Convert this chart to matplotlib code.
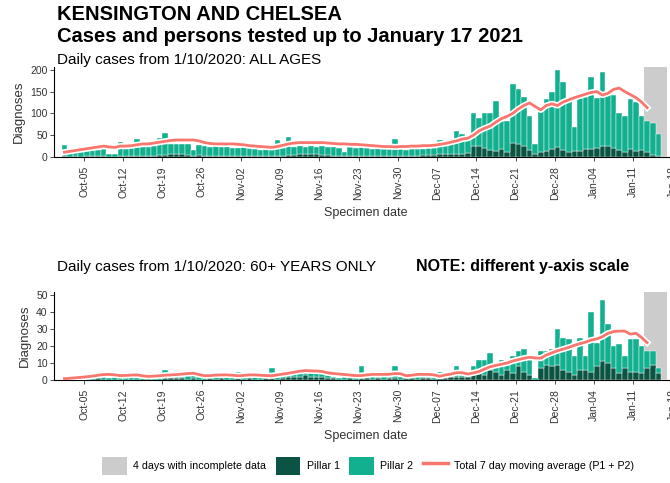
import matplotlib
matplotlib.use('Agg')
import matplotlib.pyplot as plt
import matplotlib.dates as mdates
import matplotlib.patheffects as pe
from matplotlib.patches import Patch
from matplotlib.lines import Line2D
import numpy as np
import pandas as pd

plt.rcParams['font.family'] = ['Liberation Sans', 'DejaVu Sans']

FIRST_DAY = '2020-10-01'
INCOMPLETE_FROM = 104  # index of the first of the last 4 days

# all ages: daily totals (P1 + P2) and pillar 1 share
all_total = [27, 12, 13, 14, 15, 16, 17, 18, 7, 6,
             34, 18, 20, 42, 22, 24, 25, 43, 54, 29,
             30, 30, 29, 17, 27, 26, 24, 36, 23, 22,
             21, 20, 22, 20, 19, 17, 18, 19, 40, 20,
             46, 24, 26, 24, 25, 23, 25, 24, 22, 21,
             12, 22, 21, 22, 20, 19, 21, 20, 19, 42,
             18, 17, 19, 18, 19, 20, 21, 40, 28, 32,
             60, 52, 48, 102, 89, 100, 100, 128, 83, 83,
             168, 155, 137, 95, 30, 110, 133, 149, 199, 173,
             131, 68, 136, 138, 183, 136, 194, 142, 142, 101,
             95, 134, 126, 95, 83, 78, 52, 0]
all_p1 = [2, 1, 2, 1, 2, 2, 3, 2, 1, 1,
          2, 2, 3, 2, 3, 3, 2, 4, 5, 6,
          7, 6, 5, 3, 4, 3, 3, 2, 3, 3,
          2, 3, 2, 2, 3, 2, 2, 2, 3, 3,
          4, 5, 6, 6, 7, 6, 5, 4, 3, 2,
          2, 2, 3, 2, 2, 3, 2, 2, 3, 3,
          2, 2, 3, 3, 4, 4, 5, 6, 7, 7,
          8, 8, 9, 25, 26, 21, 15, 13, 19, 11,
          31, 29, 25, 17, 8, 11, 13, 19, 23, 15,
          11, 13, 13, 19, 19, 21, 25, 25, 21, 17,
          11, 19, 13, 15, 11, 5, 3, 0]
all_avg = [11, 13, 15, 17, 19, 21, 23, 25, 23, 22,
           25, 25, 26, 28, 30, 30, 32, 34, 36, 38,
           39, 39, 39, 39, 37, 33, 31, 30, 30, 30,
           30, 29, 28, 26, 25, 24, 23, 22, 24, 27,
           30, 32, 33, 33, 33, 33, 33, 32, 31, 30,
           30, 29, 29, 28, 27, 26, 25, 24, 24, 23,
           24, 24, 25, 25, 26, 26, 27, 29, 31, 34,
           37, 41, 43, 50, 60, 66, 71, 80, 88, 93,
           100, 110, 118, 124, 116, 108, 118, 122, 118, 126,
           131, 136, 140, 144, 148, 150, 142, 146, 155, 158,
           150, 143, 136, 126, 113]

# 60+ only
old_total = [2, 1, 3, 0, 1, 1, 4, 2, 1, 2,
             2, 1, 2, 1, 2, 3, 2, 1, 6, 2,
             3, 2, 3, 5, 2, 2, 3, 2, 3, 2,
             3, 5, 2, 3, 2, 3, 2, 7, 2, 5,
             3, 5, 5, 6, 5, 5, 4, 3, 2, 1,
             2, 2, 2, 8, 2, 3, 2, 3, 2, 8,
             2, 2, 3, 2, 3, 2, 1, 5, 2, 4,
             8, 3, 4, 8, 12, 12, 16, 9, 12, 11,
             14, 17, 18, 15, 1, 17, 17, 18, 30, 25,
             24, 14, 25, 14, 40, 22, 47, 33, 20, 21,
             14, 24, 24, 20, 17, 17, 7, 0]
old_p1 = [0, 0, 0, 0, 0, 0, 1, 0, 0, 0,
          0, 0, 0, 0, 0, 1, 0, 0, 1, 1,
          1, 1, 0, 1, 0, 0, 1, 0, 1, 0,
          0, 1, 0, 1, 0, 0, 1, 1, 0, 1,
          2, 2, 2, 3, 2, 2, 2, 1, 1, 0,
          0, 1, 0, 1, 1, 0, 1, 0, 1, 1,
          0, 1, 1, 0, 1, 1, 0, 1, 1, 2,
          2, 2, 2, 4, 5, 3, 6, 5, 3, 6,
          4, 8, 5, 3, 0, 7, 9, 8, 9, 6,
          5, 3, 6, 6, 5, 8, 11, 10, 7, 4,
          7, 5, 5, 4, 7, 9, 4, 0]
old_avg = [0.8, 1, 1.3, 1.6, 1.9, 2.3, 2.8, 3.2, 3.3, 3,
           2.6, 2.7, 2.9, 3, 2.4, 2.1, 2.3, 2.5, 2.8, 3,
           3.2, 3.5, 3.8, 4, 3.2, 2.5, 2.6, 2.9, 3, 3,
           2.8, 2.5, 2.7, 3, 3, 2.8, 2.6, 2.5, 3, 3.5,
           4, 4.6, 5.2, 5.5, 5.4, 5.3, 5, 4.2, 3.8, 3.5,
           3.2, 2.9, 2.6, 2.6, 3, 3.3, 3.3, 3.3, 3.4, 3.8,
           3.7, 2.5, 2.8, 3.3, 3.3, 3.3, 3, 2.2, 3, 3.5,
           4.3, 4.3, 3.5, 4.2, 5, 6.5, 7.8, 8.6, 9.3, 10,
           11.2, 12, 12.8, 13.4, 13, 12.8, 14.7, 16, 17.2, 18.2,
           19.2, 20.4, 21.4, 22.3, 23.5, 24.2, 25.5, 27.5, 28.5, 28.8,
           28.8, 27, 27.5, 25, 22]

P1_COLOUR = '#0b5444'
P2_COLOUR = '#12b08e'
AVG_COLOUR = '#f8766d'
GREY = '#cccccc'
TEXT = '#333333'

W, H = 670, 483


def draw_panel(ax, total, p1, avg, ymax, yticks):
    days = pd.date_range(FIRST_DAY, periods=len(total))
    x = mdates.date2num(days)
    total = np.array(total)
    p1 = np.array(p1)

    ax.axvspan(x[INCOMPLETE_FROM], x[INCOMPLETE_FROM] + 4, color=GREY, lw=0, zorder=0)
    ax.bar(x, p1, width=1, align='edge', color=P1_COLOUR,
           edgecolor='white', linewidth=0.3, zorder=1)
    ax.bar(x, total - p1, bottom=p1, width=1, align='edge', color=P2_COLOUR,
           edgecolor='white', linewidth=0.3, zorder=1)
    ax.plot(x[:len(avg)] + 0.5, avg, color=AVG_COLOUR, lw=2, zorder=3,
            solid_joinstyle='round',
            path_effects=[pe.Stroke(linewidth=4.4, foreground='white'), pe.Normal()])

    ax.set_xlim(x[0] - 1.36, x[0] + 110)
    ax.set_ylim(0, ymax)
    ax.set_yticks(yticks)
    ax.xaxis.set_major_locator(mdates.WeekdayLocator(byweekday=mdates.MO))
    ax.xaxis.set_major_formatter(mdates.DateFormatter('%b-%d'))
    ax.tick_params(axis='x', labelrotation=90, labelsize=7.5, colors=TEXT, length=3, width=0.6)
    ax.tick_params(axis='y', labelsize=7.5, colors=TEXT, length=3, width=0.6, pad=1.5)
    for side in ('top', 'right'):
        ax.spines[side].set_visible(False)
    for side in ('left', 'bottom'):
        ax.spines[side].set_linewidth(0.8)
    ax.set_ylabel('Diagnoses', fontsize=9.5, color=TEXT, labelpad=4)
    ax.set_xlabel('Specimen date', fontsize=9, color=TEXT, labelpad=5)


fig = plt.figure(figsize=(W / 100, H / 100), dpi=100)

ax_all = fig.add_axes([54 / W, (H - 157) / H, (678 - 54) / W, 90.3 / H])
draw_panel(ax_all, all_total, all_p1, all_avg, 207, [0, 50, 100, 150, 200])

ax_old = fig.add_axes([54 / W, (H - 380) / H, (678 - 54) / W, 88.3 / H])
draw_panel(ax_old, old_total, old_p1, old_avg, 52, [0, 10, 20, 30, 40, 50])

fig.text(57 / W, 1 - 15 / H, 'KENSINGTON AND CHELSEA', fontsize=14.5,
         fontweight='bold', va='center')
fig.text(57 / W, 1 - 36 / H, 'Cases and persons tested up to January 17 2021',
         fontsize=14.5, fontweight='bold', va='center')
fig.text(57 / W, 1 - 60 / H, 'Daily cases from 1/10/2020: ALL AGES',
         fontsize=11, va='center')
fig.text(57 / W, 1 - 267 / H, 'Daily cases from 1/10/2020: 60+ YEARS ONLY',
         fontsize=11, va='center')
fig.text(416 / W, 1 - 267 / H, 'NOTE: different y-axis scale',
         fontsize=11.5, fontweight='bold', va='center')

handles = [Patch(facecolor=GREY), Patch(facecolor=P1_COLOUR), Patch(facecolor=P2_COLOUR),
           Line2D([], [], color=AVG_COLOUR, lw=2.5)]
labels = ['4 days with incomplete data', 'Pillar 1', 'Pillar 2',
          'Total 7 day moving average (P1 + P2)']
fig.legend(handles, labels, loc='center', bbox_to_anchor=(368 / W, 17 / H), ncol=4,
           frameon=False, fontsize=7.7, handlelength=2.3, handleheight=2.2,
           handletextpad=0.6, columnspacing=0.9, borderaxespad=0, borderpad=0)

fig.savefig('out.png', dpi=100)
